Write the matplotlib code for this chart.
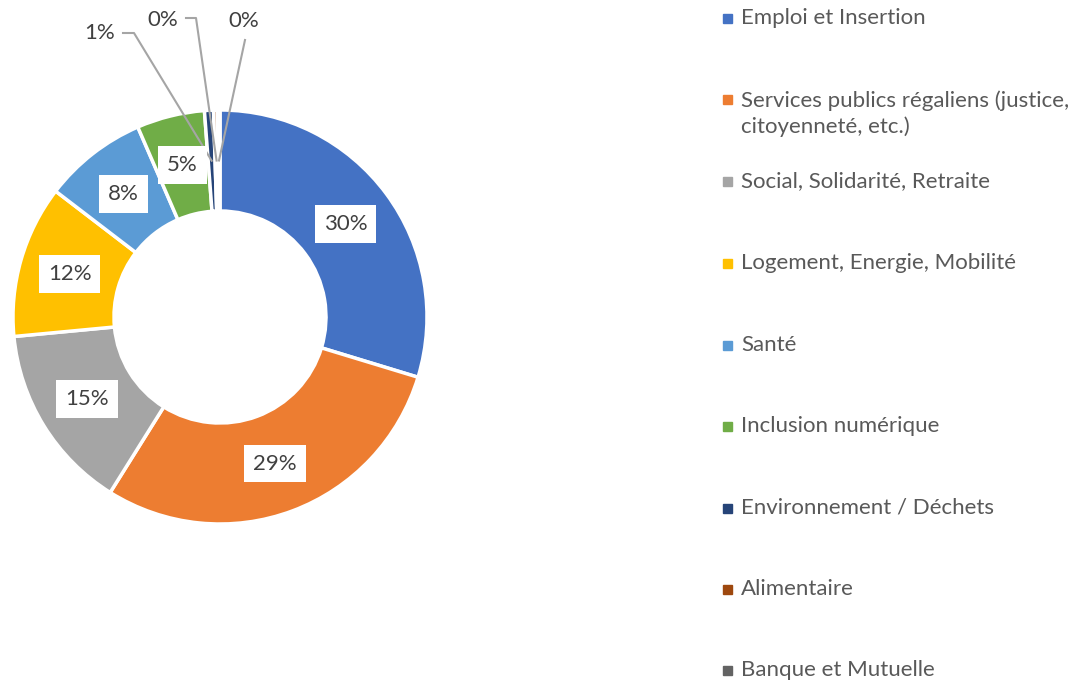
import numpy as np
import matplotlib.pyplot as plt

# Donnees
categories = ["Emploi et Insertion",
              "Services publics régaliens (justice,\ncitoyenneté, etc.)",
              "Social, Solidarité, Retraite",
              "Logement, Energie, Mobilité",
              "Santé",
              "Inclusion numérique",
              "Environnement / Déchets",
              "Alimentaire",
              "Banque et Mutuelle"]
valeurs = [29.7, 29.2, 14.6, 11.9, 8.1, 5.3, 0.7, 0.3, 0.2]
couleurs = ["#4472C4", "#ED7D31", "#A5A5A5", "#FFC000", "#5B9BD5",
            "#70AD47", "#264478", "#9E480E", "#636363"]

plt.rcParams['font.family'] = ['Lato', 'DejaVu Sans']

W, H = 1071, 682
fig = plt.figure(figsize=(W / 100, H / 100), dpi=100)
ax = fig.add_axes([0, 0, 1, 1])

cx, cy = 220, H - 317
R = 207
largeur = 101

wedges, _ = ax.pie(valeurs, colors=couleurs, startangle=90, counterclock=False,
                   center=(cx, cy), radius=R, frame=True,
                   wedgeprops=dict(width=largeur, edgecolor='white', linewidth=2.5))
ax.set_xlim(0, W)
ax.set_ylim(0, H)
ax.set_aspect('equal')
ax.axis('off')

# milieu de chaque secteur
r_mid = R - largeur / 2
points = []
for w in wedges:
    a = np.deg2rad((w.theta1 + w.theta2) / 2)
    points.append((cx + r_mid * np.cos(a), cy + r_mid * np.sin(a)))

# etiquettes dans l'anneau
for i, v in enumerate(valeurs[:6]):
    x, y = points[i]
    ax.text(x, y, f"{v:.0f}%", ha='center', va='center', fontsize=16, color='#404040',
            bbox=dict(boxstyle='square,pad=0.4', fc='white', ec='none'))

# etiquettes exterieures avec lignes de rappel
externes = [(100, 33, [(123, 33), (134, 33)]),
            (163, 20, [(186, 18), (196, 18)]),
            (244, 21, [(245, 40)])]
for k, (tx, ty, chemin) in enumerate(externes):
    i = 6 + k
    ax.text(tx, H - ty, f"{valeurs[i]:.0f}%", ha='center', va='center',
            fontsize=16, color='#404040')
    xs = [p[0] for p in chemin] + [points[i][0]]
    ys = [H - p[1] for p in chemin] + [points[i][1]]
    ax.plot(xs, ys, color='#A5A5A5', lw=1.5)

# legende
ys_leg = [18, 99, 181, 263, 345, 426, 508, 589, 670]
for cat, c, yl in zip(categories, couleurs, ys_leg):
    ax.add_patch(plt.Rectangle((723, H - yl - 4.5), 9, 9, color=c))
    yt = yl + 15 if '\n' in cat else yl
    ax.text(741, H - yt, cat, ha='left', va='center',
            fontsize=16, color='#595959', linespacing=1.35)

fig.savefig('out.png', dpi=100)
